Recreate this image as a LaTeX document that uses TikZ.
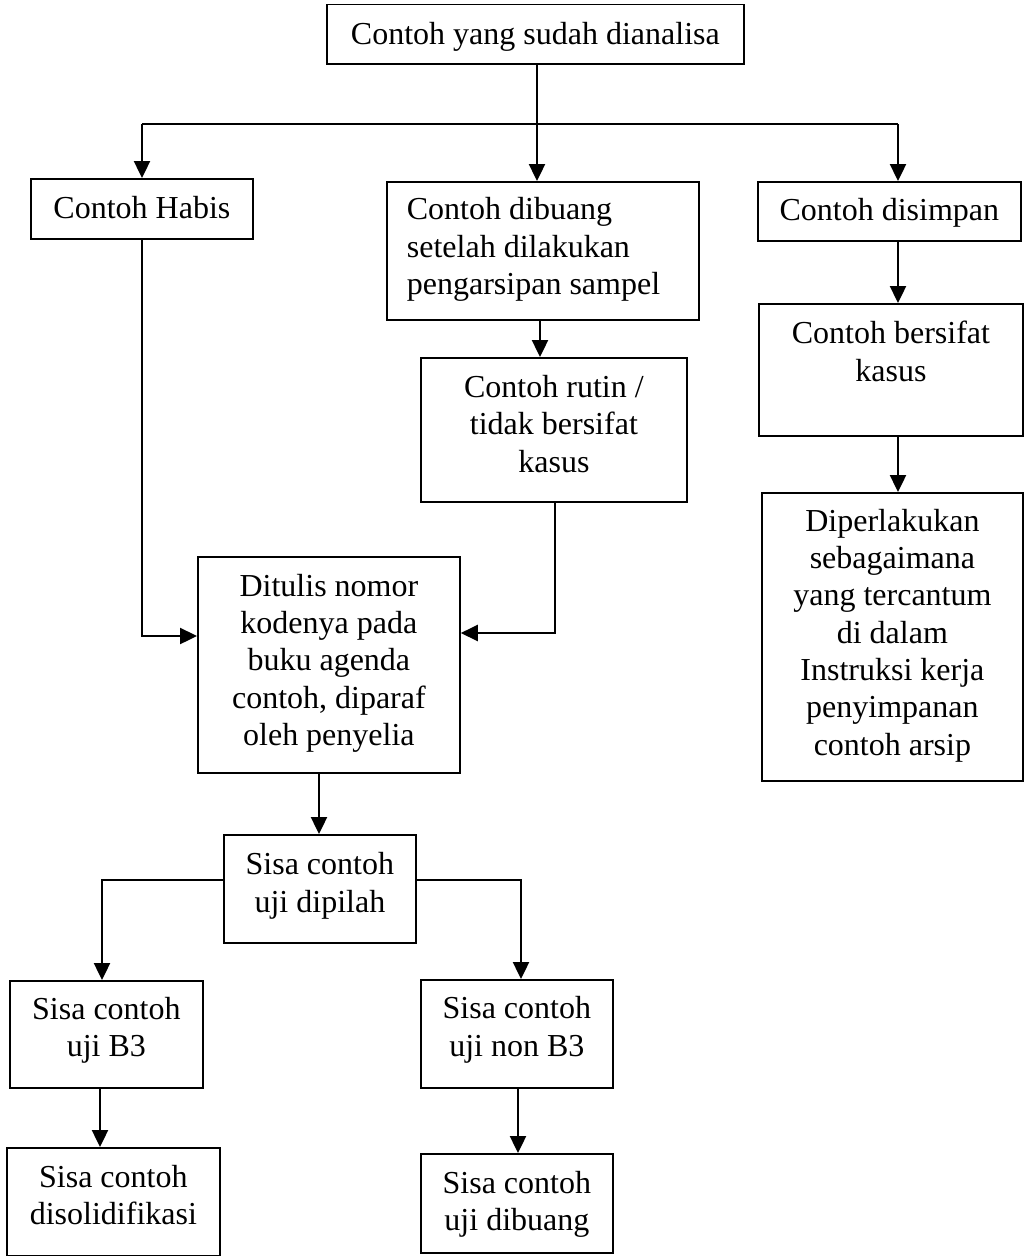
\documentclass[tikz,border=0pt]{standalone}
\usepackage{fontspec}
\setmainfont{Liberation Serif}
\usetikzlibrary{arrows.meta}
\newcommand{\bt}[5]{\parbox[c][#2pt][t]{#1pt}{#3\rule{0pt}{#4pt}#5}}
\tikzset{
  box/.style={draw, line width=1.8pt, inner sep=0pt, anchor=north west,
    font=\fontsize{32}{37.3}\selectfont},
  conn/.style={line width=1.8pt},
  arr/.style={line width=2.4pt, -{Triangle[length=17pt,width=16pt]}},
}
\begin{document}
\begin{tikzpicture}[x=1pt,y=-1pt]
\useasboundingbox (0,0) rectangle (1024,1256);
% boxes
\node[box] (top) at (326,3.5) {\bt{417}{59.5}{\centering}{40.5}{Contoh yang sudah dianalisa}};
\node[box] (habis) at (30,178) {\bt{222}{60}{\centering}{40}{Contoh Habis}};
\node[box] (dibuang) at (386,181) {\bt{312}{138}{\raggedright\leftskip=20pt}{38}{Contoh dibuang\\setelah dilakukan\\pengarsipan sampel}};
\node[box] (disimpan) at (757,181) {\bt{263}{59}{\centering}{39}{Contoh disimpan}};
\node[box] (kasus) at (758,303) {\bt{264}{132}{\centering}{40}{Contoh bersifat\\kasus}};
\node[box] (rutin) at (420,357) {\bt{266}{144}{\centering}{39.5}{Contoh rutin /\\tidak bersifat\\kasus}};
\node[box] (diperlakukan) at (761,492) {\bt{261}{288}{\centering}{38.3}{Diperlakukan\\sebagaimana\\yang tercantum\\di dalam\\Instruksi kerja\\penyimpanan\\contoh arsip}};
\node[box] (ditulis) at (197,556) {\bt{262}{216}{\centering}{39.3}{Ditulis nomor\\kodenya pada\\buku agenda\\contoh, diparaf\\oleh penyelia}};
\node[box] (dipilah) at (223,834) {\bt{192}{108}{\centering}{40}{Sisa contoh\\uji dipilah}};
\node[box] (b3) at (9,980) {\bt{193}{107}{\centering}{38.3}{Sisa contoh\\uji B3}};
\node[box] (solid) at (6,1147) {\bt{213}{108}{\centering}{39.5}{Sisa contoh\\disolidifikasi}};
\node[box] (nonb3) at (420,979) {\bt{192}{108}{\centering}{39}{Sisa contoh\\uji non B3}};
\node[box] (buang) at (420,1153) {\bt{192}{99}{\centering}{39.3}{Sisa contoh\\uji dibuang}};
% junction coordinates
\coordinate (jL) at (142,124);
\coordinate (jM) at (537,124);
\coordinate (jR) at (898,124);
\coordinate (jD) at (540,338);
\coordinate (jRt) at (555,633);
\coordinate (jHb) at (142,636);
\coordinate (jT) at (319,800);
\coordinate (jPL) at (102,880);
\coordinate (jPR) at (521,880);
\coordinate (jB3) at (100,1110);
\coordinate (jNB) at (518,1110);
% connectors
\draw[conn] (top.south -| jM) -- (jM);
\draw[conn] (jL) -- (jR);
\draw[arr] (jL) -- (habis.north -| jL);
\draw[arr] (jM) -- (dibuang.north -| jM);
\draw[arr] (jR) -- (disimpan.north -| jR);
\draw[arr] (disimpan.south -| jR) -- (kasus.north -| jR);
\draw[arr] (kasus.south -| jR) -- (diperlakukan.north -| jR);
\draw[arr] (dibuang.south -| jD) -- (rutin.north -| jD);
\draw[arr] (rutin.south -| jRt) |- (ditulis.east |- jRt);
\draw[arr] (habis.south -| jHb) |- (ditulis.west |- jHb);
\draw[arr] (ditulis.south -| jT) -- (dipilah.north -| jT);
\draw[arr] (dipilah.west |- jPL) -| (b3.north -| jPL);
\draw[arr] (dipilah.east |- jPR) -| (nonb3.north -| jPR);
\draw[arr] (b3.south -| jB3) -- (solid.north -| jB3);
\draw[arr] (nonb3.south -| jNB) -- (buang.north -| jNB);
\end{tikzpicture}
\end{document}
